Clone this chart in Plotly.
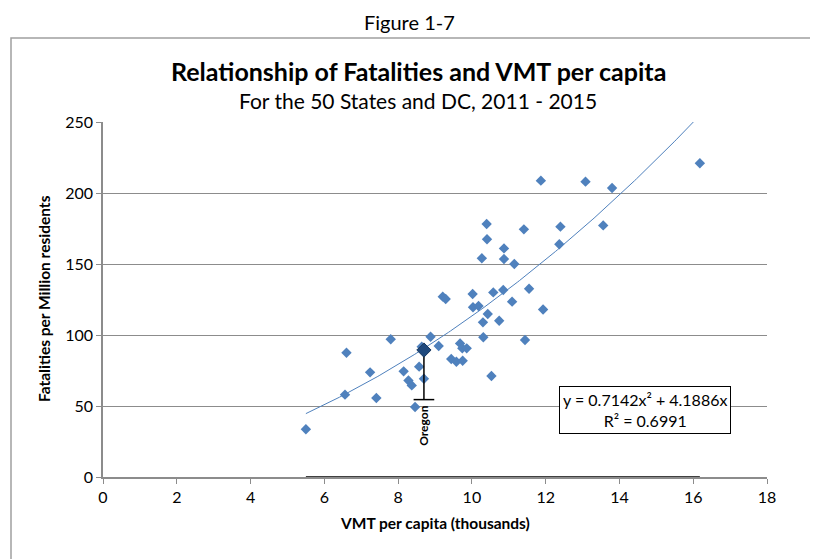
import numpy as np
import plotly.graph_objects as go

# ---- data (VMT per capita in thousands, fatalities per million residents) ----
vmt = [5.50, 6.56, 6.60, 7.24, 7.41, 7.80, 8.15, 8.28, 8.37, 8.46, 8.57, 8.70, 8.64,
       8.88, 9.10, 9.21, 9.29, 9.44, 9.58, 9.75, 9.68, 9.74, 9.86, 10.02, 10.03, 10.18,
       10.31, 10.30, 10.43, 10.53, 10.74, 11.09, 11.44, 10.58, 10.85, 11.55, 11.93,
       10.27, 10.87, 11.15, 10.87, 10.41, 10.40, 11.41, 12.40, 12.37, 13.56, 11.87,
       13.08, 13.80, 16.18]
fatal = [33.6, 58.0, 87.5, 73.7, 55.6, 97.0, 74.4, 68.0, 64.5, 49.3, 77.7, 69.2, 91.8,
         98.8, 92.3, 127.0, 125.4, 83.1, 81.2, 81.9, 94.1, 90.6, 90.6, 128.9, 119.5, 120.4,
         98.4, 108.9, 114.8, 71.1, 110.0, 123.5, 96.5, 130.0, 131.7, 132.6, 118.0,
         154.0, 153.5, 150.0, 161.0, 167.4, 178.2, 174.4, 176.3, 163.9, 177.2, 208.7,
         208.0, 203.5, 220.9]

oregon_x = 8.70
oregon_y = 89.4
oregon_bar_low = 54.5
oregon_label = "Oregon"

trend_a = 0.7142
trend_b = 4.1886
r_squared = 0.6991

x_ticks = [0, 2, 4, 6, 8, 10, 12, 14, 16, 18]
y_ticks = [0, 50, 100, 150, 200, 250]

FONT = "Lato"
BLUE = "#4F81BD"
GRID = "#8C8C8C"

# target plot-area pixel box on the page
PX0, PX1, PY0, PY1 = 103, 767, 122, 477
PW, PH = PX1 - PX0, PY1 - PY0


def px(xp):
    return (xp - PX0) / PW


def py(yp):
    return (PY1 - yp) / PH


fig = go.Figure()

# dark segment on the x axis spanning data range
fig.add_trace(go.Scatter(x=[min(vmt), max(vmt)], y=[0, 0], mode="lines",
                         line=dict(color="#404040", width=2), hoverinfo="skip",
                         showlegend=False))

# scatter points
fig.add_trace(go.Scatter(x=vmt, y=fatal, mode="markers",
                         marker=dict(symbol="diamond", size=8, color=BLUE),
                         showlegend=False))

# trendline from displayed equation
tx = np.linspace(min(vmt), max(vmt), 200)
ty = trend_a * tx ** 2 + trend_b * tx
fig.add_trace(go.Scatter(x=tx, y=ty, mode="lines",
                         line=dict(color=BLUE, width=1), showlegend=False,
                         hoverinfo="skip"))

# Oregon marker and its drop bar
fig.add_trace(go.Scatter(x=[oregon_x, oregon_x], y=[oregon_y, oregon_bar_low], mode="lines",
                         line=dict(color="black", width=1.5), showlegend=False))
fig.add_trace(go.Scatter(x=[oregon_x - 0.28, oregon_x + 0.28], y=[oregon_bar_low, oregon_bar_low],
                         mode="lines", line=dict(color="black", width=1.5), showlegend=False))
fig.add_trace(go.Scatter(x=[oregon_x], y=[oregon_y], mode="markers",
                         marker=dict(symbol="diamond", size=11, color="#1F497D",
                                     line=dict(color="#17375E", width=1)),
                         showlegend=False))

fig.add_annotation(x=oregon_x, y=oregon_bar_low - 3, xref="x", yref="y",
                   text="<b>" + oregon_label + "</b>", textangle=-90, showarrow=False,
                   yanchor="top", xanchor="center",
                   font=dict(family=FONT, size=12, color="black"))

# equation box
fig.add_annotation(x=14.68, y=47.2, xref="x", yref="y",
                   text=f"y = {trend_a}x² + {trend_b}x<br>R² = {r_squared}",
                   showarrow=False, bgcolor="white", bordercolor="black", borderwidth=1,
                   borderpad=3, align="center", xanchor="center", yanchor="middle",
                   font=dict(family=FONT, size=16, color="black"))

# titles
fig.add_annotation(x=px(409), y=py(22), xref="paper", yref="paper", text="Figure 1-7",
                   showarrow=False, xanchor="center", yanchor="middle", borderpad=0,
                   font=dict(family=FONT, size=20, color="black"))
fig.add_annotation(x=px(418), y=py(71), xref="paper", yref="paper",
                   text="<b>Relationship of Fatalities and VMT per capita</b>",
                   showarrow=False, xanchor="center", yanchor="middle",
                   font=dict(family=FONT, size=25, color="black"))
fig.add_annotation(x=px(418), y=py(100), xref="paper", yref="paper",
                   text="For the 50 States and DC, 2011 - 2015",
                   showarrow=False, xanchor="center", yanchor="middle",
                   font=dict(family=FONT, size=21, color="black"))
fig.add_annotation(x=px(435), y=py(523), xref="paper", yref="paper",
                   text="<b>VMT per capita (thousands)</b>",
                   showarrow=False, xanchor="center", yanchor="middle",
                   font=dict(family=FONT, size=15.5, color="black"))
fig.add_annotation(x=px(44), y=py(299), xref="paper", yref="paper",
                   text="<b>Fatalities per Million residents</b>", textangle=-90,
                   showarrow=False, xanchor="center", yanchor="middle",
                   font=dict(family=FONT, size=15.5, color="black"))

# outer chart border (runs off the right and bottom edges)
fig.add_shape(type="rect", xref="paper", yref="paper",
              x0=px(11), x1=px(840), y0=py(590), y1=py(38),
              line=dict(color="#A0A0A0", width=1.5), fillcolor="rgba(0,0,0,0)", layer="below")

fig.update_xaxes(range=[0, 18], tickvals=x_ticks, ticktext=[str(v) for v in x_ticks],
                 showgrid=False, zeroline=False, showline=True, linecolor=GRID, linewidth=1.5,
                 ticks="outside", ticklen=5, tickcolor=GRID, layer="below traces",
                 tickfont=dict(family=FONT, size=16, color="black"))
fig.update_yaxes(range=[0, 250], tickvals=y_ticks, ticktext=[str(v) for v in y_ticks],
                 showgrid=True, gridcolor=GRID, gridwidth=1, zeroline=False,
                 showline=True, linecolor=GRID, linewidth=1.5,
                 ticks="outside", ticklen=5, tickcolor=GRID,
                 tickfont=dict(family=FONT, size=16, color="black"))

# the page body has an 8px margin, so the figure is 8px smaller and margins shifted
OFF = 8
fig.update_layout(width=818 - OFF, height=559 - OFF,
                  margin=dict(l=PX0 - OFF, r=818 - PX1, t=PY0 - OFF, b=559 - PY1),
                  plot_bgcolor="white", paper_bgcolor="white", showlegend=False)

fig.write_html("out.html")
